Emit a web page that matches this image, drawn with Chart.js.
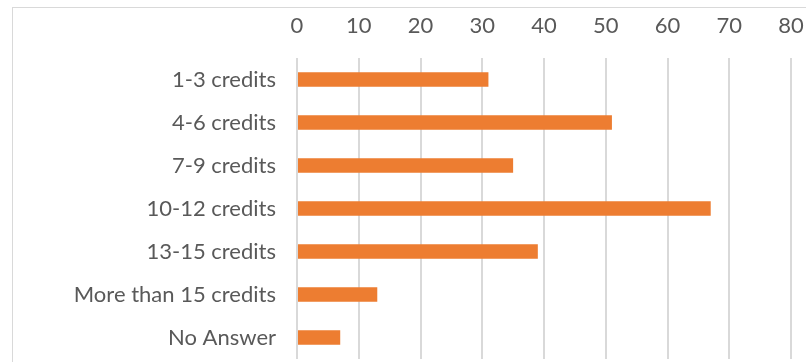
<!DOCTYPE html>
<html>
<head>
<meta charset="utf-8">
<script src="https://cdn.jsdelivr.net/npm/chart.js@4.4.1/dist/chart.umd.min.js"></script>
<style>
  html, body { margin: 0; padding: 0; background: #fff; }
  #wrap { position: relative; width: 806px; height: 362px; overflow: hidden; }
  #frame {
    position: absolute; left: 12px; top: 7px; width: 820px; height: 380px;
    border: 1px solid #d9d9d9; pointer-events: none;
  }
</style>
</head>
<body>
<div id="wrap">
  <canvas id="credits_chart" width="806" height="362"></canvas>
  <div id="frame"></div>
</div>
<script>
var categories = ["1-3 credits", "4-6 credits", "7-9 credits", "10-12 credits",
                  "13-15 credits", "More than 15 credits", "No Answer"];
var counts = [31, 51, 35, 67, 39, 13, 7];
var xTicks = [0, 10, 20, 30, 40, 50, 60, 70, 80];

var labelFont = { family: "Lato", size: 22 };

new Chart("credits_chart", {
  type: "bar",
  data: {
    labels: categories,
    datasets: [{
      data: counts,
      backgroundColor: "#ed7d31",
      borderWidth: 0,
      categoryPercentage: 1,
      barPercentage: 0.34
    }]
  },
  options: {
    indexAxis: "y",
    responsive: false,
    animation: false,
    layout: { padding: { left: 0, right: 15, top: 0, bottom: 3 } },
    plugins: {
      legend: { display: false },
      tooltip: { enabled: false }
    },
    scales: {
      x: {
        position: "top",
        min: xTicks[0],
        max: xTicks[xTicks.length - 1],
        afterBuildTicks: function(scale) {
          scale.ticks = xTicks.map(function(v) { return { value: v }; });
        },
        // fixed header height, and don't let the labels eat into the plot
        afterFit: function(scale) {
          scale.height = 58;
          scale.paddingLeft = 0;
          scale.paddingRight = 0;
        },
        grid: { color: "#d9d9d9", lineWidth: 2, drawTicks: false },
        border: { display: false },
        ticks: { color: "#595959", font: labelFont, padding: 19, maxRotation: 0 }
      },
      y: {
        afterFit: function(scale) {
          scale.width = 297;
          scale.paddingTop = 0;
          scale.paddingBottom = 0;
        },
        grid: { display: false, drawTicks: false },
        border: { display: false },
        ticks: { color: "#595959", font: labelFont, padding: 21 }
      }
    }
  }
});
</script>
</body>
</html>
